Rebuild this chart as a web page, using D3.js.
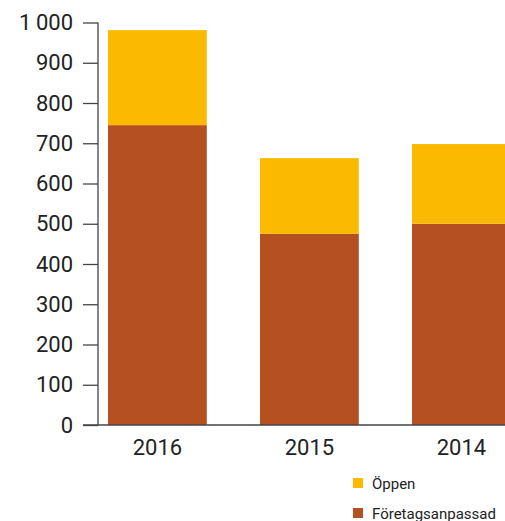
<!DOCTYPE html>
<html>
<head>
<meta charset="utf-8">
<script src="https://cdn.jsdelivr.net/npm/d3@7"></script>
<style>
  body { margin: 0; background: #fff; }
  text { font-family: "Roboto", "Liberation Sans", sans-serif; fill: #222; }
</style>
</head>
<body>
<div id="chart"></div>
<script>
const width = 505
const height = 521

const years = ['2016', '2015', '2014']
const foretag = [745, 475, 500]
const oppen = [236, 188, 198]
const yTicks = [0, 100, 200, 300, 400, 500, 600, 700, 800, 900, 1000]
const seriesNames = ['Öppen', 'Företagsanpassad']
const colors = { 'Öppen': '#fbba00', 'Företagsanpassad': '#b55020' }

const axisX = 98
const step = 152
const y = d3.scaleLinear().domain([0, 1000]).range([425, 22.5])
// the last bar runs past the right edge, as in the original
const x = d3.scaleBand().domain(years).range([108, 108 + step * (years.length - 0.35)]).paddingInner(0.35).paddingOuter(0)

const svg = d3.select('#chart').append('svg')
    .attr('width', width)
    .attr('height', height)

// stacked bars
const rows = years.map((yr, i) => ({ year: yr, 'Företagsanpassad': foretag[i], 'Öppen': oppen[i] }))
const stack = d3.stack().keys(['Företagsanpassad', 'Öppen'])(rows)

svg.append('g').selectAll('g')
    .data(stack)
    .join('g')
    .attr('fill', d => colors[d.key])
    .selectAll('rect')
    .data(d => d)
    .join('rect')
    .attr('x', d => x(d.data.year))
    .attr('width', x.bandwidth())
    .attr('y', d => y(d[1]))
    .attr('height', d => y(d[0]) - y(d[1]))

// y axis
const fmt = v => v >= 1000 ? d3.format(',')(v).replace(',', '\u2009') : String(v)
const yAxis = svg.append('g')
    .attr('transform', `translate(${axisX},0)`)
    .call(d3.axisLeft(y).tickValues(yTicks).tickSize(15).tickPadding(10).tickFormat(fmt))
yAxis.select('.domain').remove()
yAxis.selectAll('.tick line').attr('stroke', '#444').attr('stroke-width', 1.3)
yAxis.selectAll('.tick text').style('font-size', '22px').attr('fill', '#222')

svg.append('line')
    .attr('x1', axisX).attr('x2', axisX)
    .attr('y1', y(1000)).attr('y2', y(0))
    .attr('stroke', '#444').attr('stroke-width', 1.3)

// x axis baseline
svg.append('line')
    .attr('x1', axisX - 15).attr('x2', width)
    .attr('y1', y(0)).attr('y2', y(0))
    .attr('stroke', '#444').attr('stroke-width', 1.3)

svg.append('g').selectAll('text')
    .data(years)
    .join('text')
    .attr('x', d => x(d) + x.bandwidth() / 2)
    .attr('y', 455)
    .attr('text-anchor', 'middle')
    .style('font-size', '22px')
    .text(d => d)

// legend
const legend = svg.append('g').selectAll('g')
    .data(seriesNames)
    .join('g')
    .attr('transform', (d, i) => `translate(353,${478 + i * 30})`)
legend.append('rect')
    .attr('width', 10).attr('height', 10)
    .attr('fill', d => colors[d])
legend.append('text')
    .attr('x', 19).attr('y', 10.5)
    .style('font-size', '15px')
    .text(d => d)
</script>
</body>
</html>
